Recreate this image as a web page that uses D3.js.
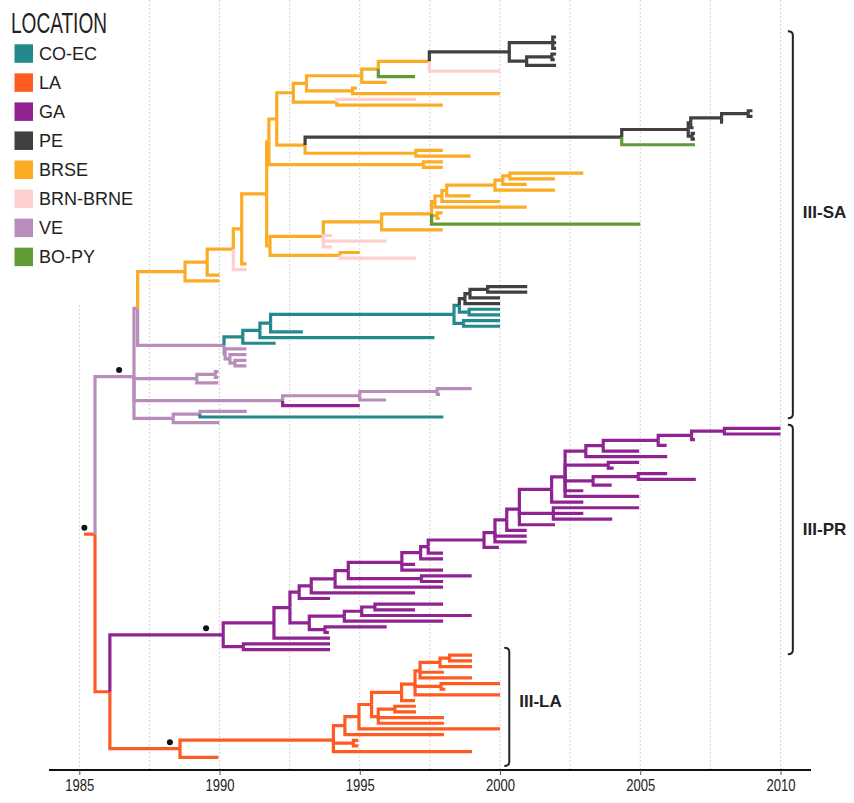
<!DOCTYPE html>
<html><head><meta charset="utf-8">
<script src="https://cdn.jsdelivr.net/npm/d3@7"></script>
<style>body{margin:0;background:#fff}svg{display:block}</style>
</head><body>
<svg id="chart" width="854" height="803"></svg>
<script>
// ---------- data ----------
const locations = ["CO-EC","LA","GA","PE","BRSE","BRN-BRNE","VE","BO-PY"];
const locationCodes = ["CO","LA","GA","PE","BR","BN","VE","BO"];
const locationColors = ["#24898c","#fe5b23","#8e2391","#404040","#fbac24","#fdcfcf","#b98dbb","#619b35"];
const yearTicks = [1985,1990,1995,2000,2005,2010];
const gridYears = [1985,1987.5,1990,1992.5,1995,1997.5,2000,2002.5,2005,2007.5,2010];
const rootEdgeStart = 1985.17;
const cladeBrackets = [
  {label:"III-SA", t:2010.44, from:-1.2, to:67.4, labelAt:30.9},
  {label:"III-PR", t:2010.44, from:68.2, to:109, labelAt:86.8},
  {label:"III-LA", t:2000.33, from:107.5, to:128.7, labelAt:117.1}
];
const supportDots = [
  {part:"VEclade", t:1986.42},
  {part:"root", t:1985.18},
  {part:"GAclade", t:1989.52},
  {part:"LAclade", t:1988.23}
];
// time-scaled tree, sub-clades written as LOC@year, {name} = nested sub-clade
const brseParts = [
 ["PEtop","((PE@2002,PE@2002,PE@2002)PE@2001.88,((PE@2002,PE@2001.95)PE@2001.85,PE@2002)PE@2000.95)PE@2000.33"],
 ["n429","({PEtop},BN@2000)BR@1997.48"],
 ["n378","({n429},BO@1996.97)BR@1995.66"],
 ["n361","({n378},BR@1995.96)BR@1995.07"],
 ["n352","(BR@1994.9,BR@2000)BR@1994.74"],
 ["n306","({n361},{n352})BR@1993.1"],
 ["n336","(BN@1997,BR@1997.96)BR@1994.18"],
 ["n293","({n306},{n336})BR@1992.63"],
 ["n688","((((PE@2009,PE@2009)PE@2008.85,PE@2007.95)PE@2007.9,PE@2006.9)PE@2006.8,(PE@2006.95,PE@2006.95)PE@2006.85)PE@2006.71"],
 ["PElong","({n688},BO@2006.95)PE@2004.34"],
 ["n416","(BR@1997.96,BR@1998.95)BR@1997.0"],
 ["n305","({PElong},{n416})BR@1993.05"],
 ["n276","({n293},{n305})BR@1992.04"],
 ["n423","(BR@1997.96,BR@1997.96)BR@1997.27"],
 ["M2","({n276},{n423})BR@1991.76"],
 ["Na","(BR@2002.97,BR@2001.96)BR@2000.35"],
 ["Nb","({Na},BR@2000.95)BR@2000.1"],
 ["Nc","({Nb},BR@2001.96)BR@1999.82"],
 ["Nd","({Nc},BR@1998.95)BR@1998.1"],
 ["Ne","({Nd},BR@2000)BR@1997.93"],
 ["Nf","({Ne},BR@2000.95)BR@1997.68"],
 ["Nh","(BR@1997.95,BR@1997.85)BR@1997.76"],
 ["Ng","({Nf},{Nh},BO@2005)BR@1997.56"],
 ["n381","({Ng},BR@1997.96)BR@1995.78"],
 ["n323","({n381},BN@1994,BN@1995.96,BN@1994)BR@1993.7"],
 ["n340","(BR@1995,BN@1997)BR@1994.3"],
 ["Q","({n323},{n340})BR@1991.8"],
 ["M","({M2},{Q})BR@1991.68"],
 ["n241","({M},BR@1990.96)BR@1990.79"],
 ["n233","({n241},BN@1990.96)BR@1990.49"],
 ["n207","({n233},BR@1990)BR@1989.56"],
 ["BRSEclade","({n207},BR@1990)BR@1988.77"]
];
const veParts = [
 ["P1","(PE@2000.97,PE@2000.97)PE@1999.56"],
 ["P2","({P1},PE@2000)PE@1998.93"],
 ["P3","({P2},PE@2000)PE@1998.75"],
 ["C1","(CO@2000,CO@2000)CO@1998.9"],
 ["C2","({P3},{C1})CO@1998.55"],
 ["C3","(CO@2000,CO@2000)CO@1998.7"],
 ["C4","({C2},{C3})CO@1998.36"],
 ["T3","({C4},CO@1992.97)CO@1991.82"],
 ["T2","({T3},CO@1997.66)CO@1991.44"],
 ["T1","({T2},CO@1992)CO@1990.83"],
 ["lil","(VE@1990.96,(VE@1990.96,(VE@1990.96,VE@1990.96)VE@1990.55)VE@1990.37)VE@1990.2"],
 ["g2","({T1},{lil})VE@1990.16"],
 ["nodeB","({BRSEclade},{g2})VE@1987.08"],
 ["g3","((VE@1989.96,VE@1989.96)VE@1989.85,VE@1989.96)VE@1989.19"],
 ["g4","(((VE@1998.99,VE@1997.86)VE@1997.76,VE@1995.93)VE@1995,GA@1995)VE@1992.25"],
 ["g5","((VE@1990.97,CO@1997.98)VE@1989.3,VE@1989.99)VE@1988.35"],
 ["VEclade","({nodeB},{g3},{g4},{g5})VE@1986.95"]
];
const gaParts = [
 ["U1","(GA@2010,GA@2010)GA@2008"],
 ["U2","({U1},GA@2006.95)GA@2006.83"],
 ["U3","({U2},GA@2005.94)GA@2005.64"],
 ["U4","({U3},GA@2004.96)GA@2003.68"],
 ["U5","({U4},GA@2005.96)GA@2003.06"],
 ["U6a","(GA@2004.96,GA@2004.05)GA@2003.86"],
 ["U6b","((GA@2005.96,GA@2006.98)GA@2004.93,GA@2003.98)GA@2003.32"],
 ["U7","({U5},{U6a},{U6b},GA@2002.97,GA@2004.96)GA@2002.32"],
 ["U8","({U7},GA@2002.97)GA@2001.84"],
 ["U9s","(GA@2004.96,GA@2002.97,GA@2004)GA@2001.9"],
 ["U9","({U8},{U9s},GA@2001.96)GA@2000.69"],
 ["U10","({U9},GA@2000.95)GA@2000.24"],
 ["U11","({U10},GA@2000.95,GA@2000.95)GA@1999.82"],
 ["U12","({U11},GA@1999.96)GA@1999.43"],
 ["G428","({U12},GA@1997.97)GA@1997.44"],
 ["G420","({G428},GA@1997.97)GA@1997.17"],
 ["G401","({G420},GA@1996.97,GA@1997.97)GA@1996.5"],
 ["G421","(GA@1998.99,GA@1997.97)GA@1997.2"],
 ["G348","({G401},{G421})GA@1994.59"],
 ["G335","({G348},GA@1997.97)GA@1994.12"],
 ["G311","({G335},GA@1996.97)GA@1993.27"],
 ["G299","({G311},GA@1993.94)GA@1992.84"],
 ["G375","(GA@1997.97,GA@1996.97)GA@1995.54"],
 ["G361","({G375},GA@1998.99)GA@1995.07"],
 ["G344","({G361},GA@1997.97)GA@1994.45"],
 ["G325","(GA@1995.96,GA@1993.9)GA@1993.76"],
 ["G309","({G344},{G325})GA@1993.2"],
 ["G290","({G299},{G309})GA@1992.51"],
 ["G274","({G290},GA@1993.94)GA@1991.94"],
 ["G243","(GA@1993.94,GA@1993.94)GA@1990.85"],
 ["GAclade","({G274},{G243})GA@1990.13"]
];
const laParts = [
 ["L1","(LA@1999,LA@1999)LA@1998.2"],
 ["L2","({L1},LA@1999)LA@1997.86"],
 ["L3","({L2},LA@1998,LA@1999)LA@1997.15"],
 ["L4","(LA@2000,LA@1998.05)LA@1997.9"],
 ["L5","({L3},{L4},LA@2000)LA@1996.97"],
 ["L6","({L5},LA@1996.97)LA@1996.49"],
 ["L7","(LA@1997,LA@1997)LA@1996.25"],
 ["L8","({L7},LA@1998,LA@1998)LA@1995.66"],
 ["L9","({L6},{L8})LA@1995.42"],
 ["L10","({L9},LA@2000)LA@1994.97"],
 ["L11","({L10},LA@1998)LA@1994.47"],
 ["L12s","(LA@1994.95,LA@1994.95)LA@1994.77"],
 ["L12","({L11},{L12s},LA@1999)LA@1994.06"],
 ["LAclade","({L12},LA@1989.96)LA@1988.59"],
 ["GALA","({GAclade},{LAclade})LA@1986.09"],
 ["root","({VEclade},{GALA})LA@1985.56"]
];

// ---------- build tree ----------
const partMap = new Map([...brseParts, ...veParts, ...gaParts, ...laParts]);
function expand(name){
  return partMap.get(name).replace(/\{(\w+)\}/g, (m, n) => expand(n)) + "#" + name;
}
const src = expand("root");
let pos = 0;
function parseNode(){
  const node = {};
  if (src[pos] === "("){
    pos++;
    node.children = [parseNode()];
    while (src[pos] === ","){ pos++; node.children.push(parseNode()); }
    pos++; // ')'
  }
  const start = pos;
  while (pos < src.length && src[pos] !== "," && src[pos] !== ")") pos++;
  const parts = src.slice(start, pos).split("#");
  node.tags = parts.slice(1);
  const [loc, t] = parts[0].split("@");
  node.loc = loc; node.time = +t;
  return node;
}
const root = d3.hierarchy(parseNode());
const leaves = root.leaves();
leaves.forEach((l, i) => l.yi = i);
root.eachAfter(n => { if (n.children) n.yi = d3.mean(n.children, c => c.yi); });

// ---------- scales ----------
const x = d3.scaleLinear().domain([1985, 2010]).range([79.3, 780.5]);
const y = d3.scaleLinear().domain([0, leaves.length - 1]).range([37, 757.3]);
const color = d3.scaleOrdinal().domain(locationCodes).range(locationColors);
const axisY = 770;

const svg = d3.select("#chart");
const FONT = "'Liberation Sans', Arial, sans-serif";

// grid
const legendBottom = 305;
svg.append("g").selectAll("line").data(gridYears).join("line")
  .attr("x1", d => x(d)).attr("x2", d => x(d))
  .attr("y1", d => d === 1985 ? legendBottom : 0).attr("y2", axisY)
  .attr("stroke", "#c4c4c4").attr("stroke-width", 1).attr("stroke-dasharray", "1.5,2.5");

// branches
const gTree = svg.append("g").attr("fill", "none").attr("stroke-width", 3.2).attr("stroke-linejoin", "miter");
gTree.append("path")
  .attr("d", `M${x(rootEdgeStart)},${y(root.yi)}H${x(root.data.time)}`)
  .attr("stroke", color(root.data.loc));
gTree.selectAll("path.br").data(root.descendants().filter(d => d.parent)).join("path")
  .attr("class", "br")
  .attr("d", d => `M${x(d.parent.data.time)},${y(d.parent.yi)}V${y(d.yi)}H${x(d.data.time)}`)
  .attr("stroke", d => color(d.data.loc));

// support dots
const byTag = new Map();
root.each(n => n.data.tags.forEach(t => byTag.set(t, n)));
svg.append("g").selectAll("circle").data(supportDots).join("circle")
  .attr("cx", d => x(d.t)).attr("cy", d => y(byTag.get(d.part).yi) - 6.5)
  .attr("r", 3).attr("fill", "#111");

// axis
svg.append("line").attr("x1", 49).attr("x2", 811).attr("y1", axisY).attr("y2", axisY)
  .attr("stroke", "#111").attr("stroke-width", 2);
const ax = svg.append("g").attr("transform", `translate(0,${axisY})`)
  .call(d3.axisBottom(x).tickValues(yearTicks).tickFormat(d3.format("d")).tickSize(5).tickPadding(5));
ax.select(".domain").remove();
ax.selectAll(".tick line").attr("stroke", "#555");
ax.selectAll("text").attr("font-family", FONT).attr("font-size", 16).attr("fill", "#222")
  .attr("textLength", 29).attr("lengthAdjust", "spacingAndGlyphs");

// clade brackets
const gB = svg.append("g");
cladeBrackets.forEach(b => {
  const bx = x(b.t), y0 = y(b.from), y1 = y(b.to);
  gB.append("path")
    .attr("d", `M${bx-5},${y0+1}Q${bx},${y0+1} ${bx},${y0+5}V${y1-5}Q${bx},${y1-1} ${bx-5},${y1-1}`)
    .attr("fill", "none").attr("stroke", "#222").attr("stroke-width", 2);
  gB.append("text").attr("x", bx + 10).attr("y", y(b.labelAt)).attr("dy", "0.35em")
    .attr("font-family", FONT).attr("font-weight", "bold").attr("font-size", 17).attr("fill", "#222")
    .text(b.label);
});

// legend
const gL = svg.append("g");
gL.append("text").attr("x", 11).attr("y", 33).attr("font-family", FONT).attr("font-size", 29)
  .attr("fill", "#222").attr("textLength", 96).attr("lengthAdjust", "spacingAndGlyphs").text("LOCATION");
const items = gL.selectAll("g.it").data(locations).join("g").attr("class", "it")
  .attr("transform", (d, i) => `translate(14.5,${44.3 + i * 29.05})`);
items.append("rect").attr("width", 18.5).attr("height", 18.5).attr("fill", (d, i) => locationColors[i]);
items.append("text").attr("x", 24.5).attr("y", 15.7).attr("font-family", FONT).attr("font-size", 18)
  .attr("fill", "#222").text(d => d);
</script>
</body></html>
